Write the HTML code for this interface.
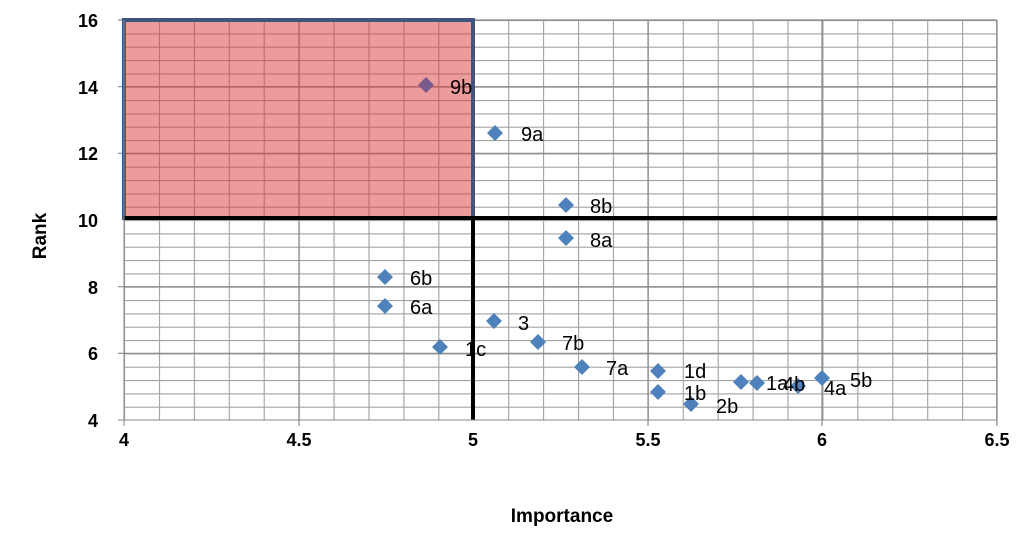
<!DOCTYPE html>
<html><head><meta charset="utf-8"><style>body{margin:0;background:#fff}svg{display:block}</style></head><body>
<svg width="1028" height="551" xmlns="http://www.w3.org/2000/svg" font-family="Liberation Sans, sans-serif">
<defs>
<pattern id="gp" patternUnits="userSpaceOnUse" x="124" y="20" width="34.92" height="13.3333">
<path d="M0.5 0V13.3333M0 0.5H34.92" stroke="#a0a0a0" stroke-width="1.2" fill="none"/>
</pattern>
</defs>
<rect width="1028" height="551" fill="#fff"/>
<rect x="124" y="20" width="873" height="400" fill="url(#gp)"/>
<line x1="996.5" y1="20" x2="996.5" y2="420" stroke="#a0a0a0"/>
<g stroke="#888" stroke-width="1.2">
<line x1="118" y1="20" x2="997" y2="20"/><line x1="118" y1="86.7" x2="997" y2="86.7"/><line x1="118" y1="153.3" x2="997" y2="153.3"/><line x1="118" y1="286.7" x2="997" y2="286.7"/><line x1="118" y1="353.3" x2="997" y2="353.3"/>
<line x1="299" y1="20" x2="299" y2="426"/><line x1="648" y1="20" x2="648" y2="426"/><line x1="822" y1="20" x2="822" y2="426"/><line x1="997" y1="20" x2="997" y2="426"/>
</g>
<rect x="124" y="20" width="349" height="198" fill="#d9393c" fill-opacity="0.5" stroke="#3f5580" stroke-width="4"/>
<line x1="124" y1="218" x2="997" y2="218" stroke="#000" stroke-width="4"/>
<line x1="473" y1="218" x2="473" y2="420" stroke="#000" stroke-width="4"/>
<line x1="124" y1="20" x2="124" y2="426" stroke="#888"/>
<line x1="118" y1="420" x2="997" y2="420" stroke="#888"/>
<g font-size="18" font-weight="bold" fill="#000" text-anchor="end">
<text x="98" y="27">16</text><text x="98" y="94">14</text><text x="98" y="160">12</text><text x="98" y="227">10</text><text x="98" y="294">8</text><text x="98" y="360">6</text><text x="98" y="427">4</text>
</g>
<g font-size="18" font-weight="bold" fill="#000" text-anchor="middle">
<text x="124" y="446">4</text><text x="299" y="446">4.5</text><text x="473" y="446">5</text><text x="648" y="446">5.5</text><text x="822" y="446">6</text><text x="997" y="446">6.5</text>
</g>
<text x="562" y="522" font-size="19" font-weight="bold" text-anchor="middle">Importance</text>
<text transform="translate(46,236) rotate(-90)" font-size="19" font-weight="bold" text-anchor="middle">Rank</text>
<g fill="#4f81bd">
<path d="M426 77l8 8-8 8-8-8z" fill="#7a5a8c"/>
<path d="M495 125l8 8-8 8-8-8z"/><path d="M566 197l8 8-8 8-8-8z"/><path d="M566 230l8 8-8 8-8-8z"/>
<path d="M385 269l8 8-8 8-8-8z"/><path d="M385 298l8 8-8 8-8-8z"/><path d="M494 313l8 8-8 8-8-8z"/>
<path d="M538 334l8 8-8 8-8-8z"/><path d="M440 339l8 8-8 8-8-8z"/><path d="M582 359l8 8-8 8-8-8z"/>
<path d="M658 363l8 8-8 8-8-8z"/><path d="M658 384l8 8-8 8-8-8z"/><path d="M691 396l8 8-8 8-8-8z"/>
<path d="M741 374l8 8-8 8-8-8z"/><path d="M757 375l8 8-8 8-8-8z"/><path d="M798 378l8 8-8 8-8-8z"/><path d="M822 370l8 8-8 8-8-8z"/>
</g>
<g font-size="20" fill="#000" font-family="Liberation Sans, sans-serif">
<text x="450" y="94">9b</text><text x="521" y="141">9a</text><text x="590" y="213">8b</text><text x="590" y="247">8a</text>
<text x="410" y="285">6b</text><text x="410" y="314">6a</text><text x="518" y="330">3</text><text x="562" y="350">7b</text>
<text x="465" y="356">1c</text><text x="606" y="375">7a</text><text x="684" y="378">1d</text><text x="684" y="400">1b</text>
<text x="716" y="413">2b</text><text x="766" y="390">1a</text><text x="783" y="391">4b</text><text x="824" y="395">4a</text><text x="850" y="387">5b</text>
</g>
</svg>
</body></html>
